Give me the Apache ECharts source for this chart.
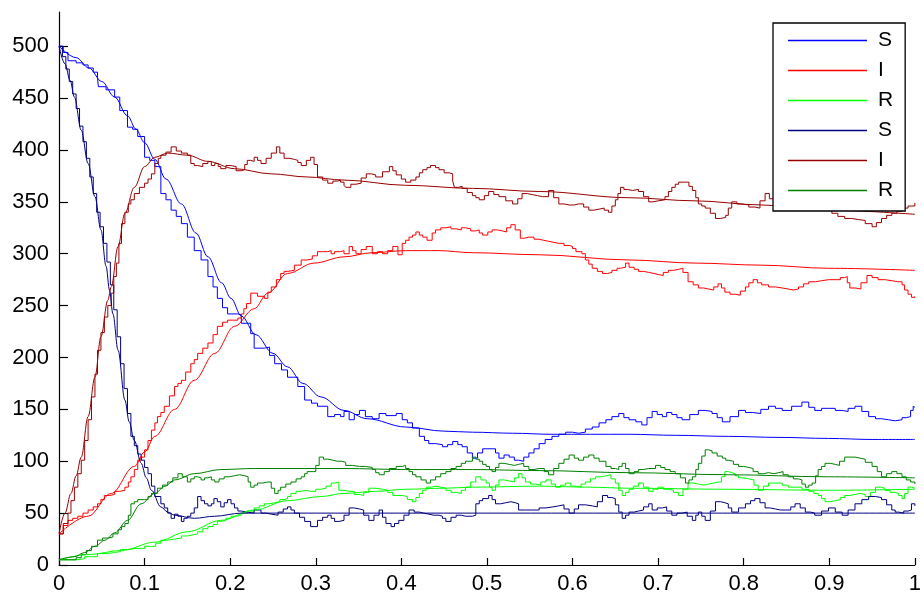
<!DOCTYPE html>
<html>
<head>
<meta charset="utf-8">
<script src="https://cdn.jsdelivr.net/npm/echarts@6/dist/echarts.min.js"></script>
<style>
html,body{margin:0;padding:0;background:#fff;}
#chart{width:924px;height:595px;}
</style>
</head>
<body>
<div id="chart"></div>
<script>
// Legend labels
const legendNames = ['S', 'I', 'R', 'S', 'I', 'R'];
const xTicks = [0, 0.1, 0.2, 0.3, 0.4, 0.5, 0.6, 0.7, 0.8, 0.9, 1];

// Model 1 (slow epidemic) - deterministic curves, [t, value]
const S1ode = [[0,500],[0.02,489],[0.035,479],[0.05,466],[0.065,451],[0.08,433],[0.09,420],[0.1,407],[0.112,391],[0.125,372],[0.143,348],[0.16,320],[0.174,297],[0.19,272],[0.201,257],[0.213,240],[0.23,222],[0.25,204],[0.267,191],[0.285,175],[0.306,162],[0.333,149],[0.36,141],[0.405,133],[0.45,129],[0.483,128],[0.53,127],[0.576,126],[0.666,126],[0.72,125],[0.782,124],[0.84,123],[0.899,122],[0.95,121],[1,121]];
const I1ode = [[0,30],[0.034,47],[0.061,69],[0.088,95],[0.1,109],[0.112,124],[0.135,150],[0.158,178],[0.182,204],[0.205,230],[0.228,247],[0.244,262],[0.267,281],[0.298,291],[0.333,297],[0.366,301],[0.405,303],[0.444,303],[0.483,301],[0.561,299],[0.666,294],[0.743,291],[0.821,289],[0.899,286],[1,284]];
const R1ode = [[0,5],[0.034,10],[0.073,14],[0.112,22],[0.15,32],[0.189,43],[0.228,53],[0.267,62],[0.306,66],[0.333,69],[0.37,71],[0.405,73],[0.45,74],[0.483,75],[0.561,76],[0.62,75],[0.666,74],[0.782,73],[0.899,72],[1,73]];

// Model 1 - stochastic paths
const S1sim = [[0,500],[0.005,494],[0.0105,486],[0.02,484],[0.028,482],[0.034,479],[0.04,475],[0.045,470],[0.046,461],[0.055,458],[0.065,451],[0.071,438],[0.08,422],[0.086,420],[0.092,413],[0.1,393],[0.106,390],[0.112,384],[0.119,358],[0.125,352],[0.131,342],[0.137,336],[0.143,329],[0.15,316],[0.158,303],[0.166,294],[0.174,278],[0.18,268],[0.185,257],[0.191,248],[0.197,242],[0.209,241],[0.213,233],[0.224,223],[0.228,209],[0.24,210],[0.246,202],[0.252,194],[0.26,188],[0.267,181],[0.279,172],[0.287,159],[0.295,156],[0.302,153],[0.314,143],[0.322,145],[0.329,143],[0.333,148],[0.339,140],[0.345,145],[0.351,149],[0.358,143],[0.366,141],[0.374,146],[0.382,144],[0.394,146],[0.401,140],[0.407,137],[0.413,132],[0.421,124],[0.427,120],[0.432,117],[0.44,116],[0.448,114],[0.454,116],[0.46,119],[0.466,116],[0.471,114],[0.477,108],[0.483,103],[0.489,108],[0.495,112],[0.506,112],[0.51,108],[0.514,103],[0.52,106],[0.526,104],[0.532,101],[0.537,100],[0.543,104],[0.549,108],[0.555,112],[0.561,117],[0.568,121],[0.576,124],[0.584,126],[0.592,128],[0.6,127],[0.607,128],[0.615,131],[0.623,133],[0.631,137],[0.639,140],[0.646,143],[0.654,146],[0.66,142],[0.666,140],[0.674,138],[0.681,135],[0.687,142],[0.693,148],[0.699,145],[0.705,143],[0.71,147],[0.716,145],[0.722,142],[0.728,140],[0.737,145],[0.747,149],[0.755,148],[0.763,146],[0.769,142],[0.775,138],[0.784,143],[0.794,149],[0.802,147],[0.81,146],[0.82,150],[0.829,153],[0.837,151],[0.845,149],[0.856,153],[0.868,157],[0.876,152],[0.883,149],[0.891,151],[0.899,151],[0.907,149],[0.915,148],[0.922,151],[0.93,153],[0.938,148],[0.946,143],[0.954,141],[0.961,140],[0.969,139],[0.977,140],[0.985,142],[0.99,143],[0.995,149],[0.998,153],[1,152]];
const I1sim = [[0,30],[0.005,38],[0.0105,43],[0.016,45],[0.022,47],[0.028,50],[0.034,53],[0.04,56],[0.045,59],[0.049,63],[0.053,67],[0.059,68],[0.065,71],[0.071,72],[0.077,75],[0.081,80],[0.084,85],[0.088,92],[0.092,101],[0.096,104],[0.1,111],[0.104,120],[0.108,130],[0.112,137],[0.115,143],[0.119,147],[0.123,153],[0.129,163],[0.135,172],[0.139,175],[0.143,178],[0.148,186],[0.154,194],[0.158,198],[0.162,204],[0.168,209],[0.174,214],[0.18,222],[0.185,230],[0.191,234],[0.197,236],[0.203,236],[0.209,238],[0.213,242],[0.216,247],[0.219,252],[0.224,262],[0.232,259],[0.24,257],[0.244,263],[0.248,268],[0.254,275],[0.259,281],[0.263,283],[0.267,284],[0.275,289],[0.283,294],[0.29,295],[0.296,298],[0.302,302],[0.308,302],[0.314,303],[0.318,300],[0.322,302],[0.329,303],[0.333,300],[0.339,307],[0.343,303],[0.347,300],[0.353,304],[0.359,307],[0.366,300],[0.372,302],[0.378,300],[0.384,303],[0.39,307],[0.396,299],[0.401,310],[0.405,313],[0.409,316],[0.413,318],[0.417,321],[0.421,318],[0.425,316],[0.43,313],[0.436,320],[0.44,323],[0.446,325],[0.452,326],[0.458,324],[0.464,323],[0.47,325],[0.475,324],[0.481,322],[0.487,323],[0.491,320],[0.495,318],[0.501,321],[0.506,323],[0.512,322],[0.518,321],[0.523,325],[0.528,328],[0.533,323],[0.539,315],[0.544,316],[0.549,316],[0.555,314],[0.561,313],[0.566,312],[0.572,311],[0.578,310],[0.584,310],[0.59,308],[0.596,307],[0.6,305],[0.604,302],[0.611,300],[0.615,294],[0.619,290],[0.623,286],[0.629,283],[0.635,281],[0.641,282],[0.646,284],[0.652,286],[0.656,287],[0.662,291],[0.666,287],[0.672,285],[0.677,283],[0.683,282],[0.689,281],[0.695,280],[0.7,279],[0.706,282],[0.712,284],[0.718,285],[0.724,286],[0.729,282],[0.735,273],[0.741,270],[0.747,267],[0.753,266],[0.759,265],[0.765,268],[0.77,271],[0.774,267],[0.778,263],[0.784,261],[0.79,260],[0.796,264],[0.802,268],[0.806,272],[0.811,275],[0.816,272],[0.821,270],[0.829,268],[0.837,267],[0.845,266],[0.852,265],[0.858,266],[0.864,268],[0.87,271],[0.876,273],[0.884,274],[0.891,275],[0.899,275],[0.907,275],[0.913,277],[0.918,278],[0.921,272],[0.924,267],[0.93,266],[0.937,272],[0.944,279],[0.95,277],[0.957,275],[0.965,274],[0.973,273],[0.98,273],[0.985,270],[0.988,265],[0.992,261],[0.996,258],[1,259]];
const R1sim = [[0,5],[0.02,6],[0.03,8],[0.045,11],[0.055,12],[0.065,13],[0.072,15],[0.08,16],[0.09,16],[0.1,18],[0.108,18],[0.113,21],[0.119,24],[0.127,25],[0.135,26],[0.143,28],[0.15,29],[0.156,30],[0.162,32],[0.168,35],[0.174,37],[0.18,39],[0.185,42],[0.189,43],[0.195,45],[0.201,47],[0.207,48],[0.213,50],[0.22,52],[0.228,55],[0.234,57],[0.24,59],[0.246,60],[0.252,61],[0.258,63],[0.263,64],[0.267,66],[0.271,69],[0.277,71],[0.283,72],[0.289,71],[0.294,71],[0.3,73],[0.306,74],[0.312,76],[0.318,79],[0.322,80],[0.327,72],[0.333,71],[0.339,71],[0.345,68],[0.351,67],[0.356,70],[0.362,74],[0.37,73],[0.378,72],[0.384,70],[0.39,67],[0.396,67],[0.401,66],[0.407,63],[0.413,61],[0.417,65],[0.421,69],[0.425,72],[0.429,75],[0.435,76],[0.44,75],[0.446,74],[0.452,72],[0.458,70],[0.464,69],[0.47,72],[0.475,75],[0.481,80],[0.487,85],[0.493,82],[0.499,79],[0.503,75],[0.506,72],[0.51,77],[0.514,82],[0.52,81],[0.526,80],[0.532,84],[0.537,88],[0.541,84],[0.545,80],[0.551,78],[0.557,77],[0.563,80],[0.569,82],[0.575,78],[0.58,75],[0.586,77],[0.592,79],[0.598,76],[0.604,75],[0.61,78],[0.615,80],[0.621,83],[0.627,85],[0.633,86],[0.639,87],[0.645,83],[0.65,79],[0.654,72],[0.658,67],[0.662,70],[0.666,73],[0.671,76],[0.677,79],[0.683,75],[0.689,71],[0.694,73],[0.7,75],[0.706,73],[0.712,72],[0.718,70],[0.724,67],[0.729,73],[0.735,79],[0.741,78],[0.747,77],[0.753,78],[0.759,79],[0.765,80],[0.77,80],[0.774,85],[0.778,90],[0.782,89],[0.786,88],[0.79,86],[0.794,84],[0.8,83],[0.806,82],[0.812,77],[0.817,72],[0.823,76],[0.829,79],[0.837,79],[0.845,77],[0.852,75],[0.86,75],[0.868,73],[0.876,71],[0.882,69],[0.887,67],[0.891,64],[0.895,61],[0.901,62],[0.907,63],[0.913,65],[0.918,67],[0.924,68],[0.93,69],[0.936,68],[0.942,66],[0.948,70],[0.954,75],[0.96,74],[0.965,72],[0.971,70],[0.977,69],[0.981,67],[0.985,64],[0.988,69],[0.992,75],[0.996,74],[1,74]];

// Model 2 (fast epidemic) - deterministic curves
const S2ode = [[0,500],[0.007,483],[0.013,467],[0.018,451],[0.026,419],[0.034,387],[0.042,355],[0.049,323],[0.055,288],[0.059,265],[0.063,242],[0.069,207],[0.077,159],[0.082,138],[0.088,120],[0.096,98],[0.102,84],[0.108,72],[0.119,56],[0.127,51],[0.135,48],[0.158,45],[0.182,47],[0.213,50],[0.3,50],[0.5,50],[0.7,50],[0.9,50],[1,50]];
const I2ode = [[0,30],[0.007,50],[0.014,69],[0.02,86],[0.026,104],[0.034,143],[0.042,181],[0.049,220],[0.057,255],[0.061,268],[0.069,307],[0.077,339],[0.088,364],[0.1,384],[0.112,393],[0.127,397],[0.15,395],[0.174,389],[0.205,382],[0.248,377],[0.29,374],[0.333,371],[0.405,366],[0.483,363],[0.561,360],[0.666,354],[0.743,351],[0.821,347],[0.9,342],[1,338]];
const R2ode = [[0,5],[0.018,8],[0.03,12],[0.042,18],[0.054,24],[0.065,31],[0.08,43],[0.096,59],[0.112,69],[0.124,76],[0.135,82],[0.158,88],[0.189,92],[0.228,93],[0.333,93],[0.405,92],[0.483,92],[0.561,91],[0.666,89],[0.782,87],[0.899,85],[1,84]];

// Model 2 - stochastic paths
const S2sim = [[0,500],[0.004,490],[0.008,478],[0.012,466],[0.016,454],[0.02,440],[0.024,423],[0.028,408],[0.032,392],[0.036,374],[0.04,358],[0.044,340],[0.048,326],[0.052,310],[0.056,292],[0.06,270],[0.064,246],[0.068,220],[0.072,194],[0.076,170],[0.08,146],[0.084,124],[0.088,115],[0.092,107],[0.096,101],[0.1,94],[0.104,88],[0.108,76],[0.112,66],[0.119,59],[0.123,55],[0.127,50],[0.131,45],[0.135,49],[0.139,47],[0.143,42],[0.146,45],[0.15,47],[0.154,50],[0.158,55],[0.162,66],[0.166,62],[0.17,59],[0.174,57],[0.178,59],[0.181,64],[0.185,61],[0.189,56],[0.193,60],[0.197,63],[0.201,59],[0.205,55],[0.209,52],[0.213,51],[0.22,50],[0.228,53],[0.236,50],[0.242,49],[0.248,48],[0.256,51],[0.262,54],[0.267,56],[0.271,53],[0.275,50],[0.281,46],[0.287,42],[0.294,37],[0.302,43],[0.308,46],[0.314,48],[0.318,45],[0.322,42],[0.327,43],[0.333,48],[0.339,55],[0.345,54],[0.351,53],[0.356,48],[0.362,43],[0.368,48],[0.374,53],[0.378,46],[0.382,40],[0.388,37],[0.392,40],[0.397,43],[0.403,48],[0.409,53],[0.415,51],[0.421,50],[0.426,49],[0.432,48],[0.438,48],[0.444,47],[0.448,45],[0.452,42],[0.458,46],[0.464,48],[0.47,47],[0.475,47],[0.483,48],[0.487,59],[0.491,62],[0.495,64],[0.502,67],[0.506,63],[0.51,59],[0.516,60],[0.522,61],[0.528,60],[0.533,59],[0.537,53],[0.545,53],[0.553,53],[0.561,55],[0.569,56],[0.577,57],[0.584,58],[0.59,54],[0.596,50],[0.602,54],[0.607,58],[0.615,57],[0.623,56],[0.629,61],[0.635,67],[0.641,65],[0.646,64],[0.65,58],[0.654,51],[0.658,45],[0.662,48],[0.666,51],[0.672,52],[0.677,53],[0.683,56],[0.689,59],[0.693,53],[0.699,55],[0.705,56],[0.71,52],[0.716,48],[0.722,50],[0.728,51],[0.734,47],[0.74,43],[0.744,48],[0.747,51],[0.751,47],[0.755,43],[0.761,52],[0.767,61],[0.773,60],[0.778,59],[0.782,55],[0.786,51],[0.794,55],[0.802,59],[0.808,62],[0.813,64],[0.819,60],[0.825,55],[0.831,54],[0.837,53],[0.843,53],[0.849,53],[0.855,56],[0.86,59],[0.866,55],[0.872,51],[0.878,50],[0.883,48],[0.891,52],[0.899,55],[0.907,51],[0.915,48],[0.922,53],[0.93,59],[0.938,63],[0.946,66],[0.954,65],[0.961,63],[0.967,58],[0.973,53],[0.977,51],[0.981,50],[0.987,52],[0.992,53],[0.996,59],[1,57]];
const I2sim = [[0,30],[0.005,40],[0.0105,50],[0.014,62],[0.018,75],[0.022,88],[0.026,101],[0.03,120],[0.034,140],[0.038,162],[0.042,184],[0.045,207],[0.049,224],[0.053,239],[0.057,250],[0.061,262],[0.064,278],[0.067,291],[0.07,310],[0.073,329],[0.077,340],[0.081,348],[0.084,352],[0.088,358],[0.094,364],[0.1,368],[0.104,372],[0.108,377],[0.112,387],[0.116,392],[0.119,395],[0.125,398],[0.131,403],[0.137,399],[0.143,397],[0.15,395],[0.154,387],[0.158,385],[0.162,384],[0.168,387],[0.174,389],[0.178,385],[0.182,387],[0.186,384],[0.189,382],[0.195,385],[0.201,384],[0.207,380],[0.213,381],[0.217,386],[0.22,390],[0.224,389],[0.228,393],[0.232,390],[0.236,387],[0.242,392],[0.248,397],[0.254,403],[0.258,397],[0.263,392],[0.269,391],[0.275,390],[0.279,388],[0.283,385],[0.289,390],[0.294,393],[0.298,386],[0.302,374],[0.308,371],[0.314,368],[0.32,370],[0.325,371],[0.329,369],[0.333,366],[0.335,364],[0.341,367],[0.347,368],[0.353,373],[0.359,377],[0.365,376],[0.37,374],[0.378,379],[0.386,384],[0.39,380],[0.394,376],[0.4,372],[0.405,369],[0.411,371],[0.417,374],[0.421,378],[0.425,381],[0.43,383],[0.434,385],[0.44,383],[0.444,381],[0.45,378],[0.456,377],[0.46,370],[0.462,364],[0.467,365],[0.471,363],[0.477,359],[0.483,356],[0.487,354],[0.491,352],[0.497,356],[0.502,360],[0.508,357],[0.514,355],[0.522,351],[0.53,348],[0.536,353],[0.541,358],[0.547,357],[0.553,356],[0.559,355],[0.565,355],[0.572,361],[0.578,354],[0.584,348],[0.59,347],[0.596,347],[0.602,348],[0.607,348],[0.613,345],[0.619,342],[0.625,343],[0.631,344],[0.637,342],[0.642,340],[0.646,346],[0.65,352],[0.653,358],[0.656,364],[0.66,362],[0.664,361],[0.67,362],[0.677,360],[0.683,355],[0.689,350],[0.694,351],[0.7,352],[0.708,355],[0.712,360],[0.716,364],[0.72,367],[0.724,369],[0.732,369],[0.736,365],[0.74,361],[0.744,354],[0.747,348],[0.751,346],[0.755,344],[0.761,339],[0.767,334],[0.773,335],[0.779,337],[0.782,344],[0.786,350],[0.792,348],[0.798,347],[0.806,345],[0.813,344],[0.819,351],[0.825,358],[0.83,353],[0.84,350],[0.85,348],[0.86,346],[0.87,348],[0.88,345],[0.89,343],[0.903,339],[0.91,336],[0.918,334],[0.926,333],[0.934,332],[0.942,329],[0.95,326],[0.955,330],[0.961,334],[0.967,337],[0.973,339],[0.979,341],[0.985,344],[0.992,346],[1,349]];
const R2sim = [[0,5],[0.012,5],[0.02,7],[0.026,10],[0.032,14],[0.038,18],[0.045,24],[0.051,26],[0.057,27],[0.063,30],[0.069,34],[0.073,37],[0.077,40],[0.081,48],[0.084,59],[0.088,61],[0.092,63],[0.1,63],[0.104,66],[0.108,69],[0.115,74],[0.121,77],[0.127,80],[0.133,84],[0.139,88],[0.144,85],[0.15,80],[0.154,83],[0.158,85],[0.162,84],[0.166,82],[0.17,84],[0.174,85],[0.178,82],[0.182,80],[0.187,83],[0.193,85],[0.199,86],[0.205,87],[0.211,86],[0.217,85],[0.221,80],[0.224,75],[0.228,77],[0.232,79],[0.238,80],[0.244,80],[0.248,74],[0.252,69],[0.256,72],[0.259,75],[0.265,78],[0.271,80],[0.277,83],[0.283,85],[0.287,88],[0.29,90],[0.297,90],[0.3,96],[0.304,104],[0.309,102],[0.314,101],[0.32,100],[0.325,100],[0.33,99],[0.335,96],[0.343,95],[0.351,95],[0.358,94],[0.366,92],[0.37,89],[0.374,87],[0.38,90],[0.386,93],[0.394,95],[0.401,96],[0.405,93],[0.409,90],[0.413,87],[0.417,85],[0.423,82],[0.429,79],[0.434,82],[0.44,85],[0.446,88],[0.452,90],[0.458,93],[0.464,95],[0.47,98],[0.475,100],[0.483,104],[0.487,102],[0.491,100],[0.495,97],[0.499,95],[0.503,92],[0.506,90],[0.51,94],[0.514,98],[0.52,97],[0.526,96],[0.532,97],[0.537,98],[0.543,95],[0.549,92],[0.555,93],[0.561,93],[0.567,90],[0.572,87],[0.578,93],[0.584,98],[0.59,102],[0.596,106],[0.602,103],[0.607,101],[0.613,104],[0.619,106],[0.625,103],[0.631,100],[0.639,95],[0.645,93],[0.65,92],[0.654,95],[0.658,98],[0.662,93],[0.666,88],[0.672,90],[0.677,92],[0.683,93],[0.689,93],[0.697,96],[0.703,94],[0.708,92],[0.714,90],[0.72,88],[0.726,84],[0.732,79],[0.736,82],[0.74,85],[0.744,92],[0.747,98],[0.751,105],[0.755,111],[0.759,110],[0.763,108],[0.769,105],[0.775,103],[0.779,101],[0.782,100],[0.788,97],[0.794,95],[0.8,94],[0.806,93],[0.811,90],[0.817,88],[0.823,89],[0.829,88],[0.835,89],[0.841,90],[0.846,87],[0.852,85],[0.858,83],[0.864,82],[0.868,78],[0.872,75],[0.876,77],[0.88,79],[0.884,86],[0.887,92],[0.891,95],[0.895,98],[0.901,97],[0.907,96],[0.912,100],[0.918,104],[0.924,104],[0.93,103],[0.936,102],[0.942,99],[0.95,95],[0.956,90],[0.961,85],[0.967,88],[0.973,90],[0.979,88],[0.985,85],[0.99,82],[0.995,80],[1,78]];

const colors = { S1:'#0000ff', I1:'#ff0000', R1:'#00ff00', S2:'#000080', I2:'#990000', R2:'#008000' };

const FONT = '"Liberation Sans", Arial, sans-serif';

function line(name, data, color, smooth) {
  return {
    name: name, type: 'line', data: data, symbol: 'none', showSymbol: false,
    smooth: smooth ? 0.35 : false, smoothMonotone: smooth ? 'x' : undefined,
    step: smooth ? false : 'end',
    lineStyle: { color: color, width: 1 }, itemStyle: { color: color },
    emphasis: { disabled: true }, z: 2
  };
}

const series = [
  line('S1s', S1sim, colors.S1, false),
  line('I1s', I1sim, colors.I1, false),
  line('R1s', R1sim, colors.R1, false),
  line('S2s', S2sim, colors.S2, false),
  line('I2s', I2sim, colors.I2, false),
  line('R2s', R2sim, colors.R2, false),
  line('S1', S1ode, colors.S1, true),
  line('I1', I1ode, colors.I1, true),
  line('R1', R1ode, colors.R1, true),
  line('S2', S2ode, colors.S2, true),
  line('I2', I2ode, colors.I2, true),
  line('R2', R2ode, colors.R2, true)
];

const legendKeys = ['S1','I1','R1','S2','I2','R2'];

const chart = echarts.init(document.getElementById('chart'), null, { renderer: 'canvas' });
chart.setOption({
  animation: false,
  backgroundColor: '#ffffff',
  grid: { left: 59, right: 7, top: 12, bottom: 30, containLabel: false },
  xAxis: {
    type: 'value', min: xTicks[0], max: xTicks[xTicks.length - 1], interval: 0.1,
    axisLine: { show: true, lineStyle: { color: '#000', width: 1.2 } },
    axisTick: { show: true, inside: true, length: 7, lineStyle: { color: '#000', width: 1.2 } },
    axisLabel: { color: '#000', fontSize: 22, fontFamily: FONT, margin: 8,
      formatter: v => String(Math.round(v * 10) / 10) },
    splitLine: { show: false }
  },
  yAxis: {
    type: 'value', min: 0, max: 533, interval: 50,
    axisLine: { show: true, lineStyle: { color: '#000', width: 1.2 } },
    axisTick: { show: true, inside: true, length: 9, lineStyle: { color: '#000', width: 1.2 } },
    axisLabel: { color: '#000', fontSize: 22, fontFamily: FONT, margin: 10, showMaxLabel: false },
    splitLine: { show: false }
  },
  legend: {
    orient: 'vertical', left: 773, top: 23,
    data: legendKeys.map(k => ({ name: k, icon: 'rect', itemStyle: { color: colors[k] } })),
    formatter: name => legendNames[legendKeys.indexOf(name)],
    itemWidth: 79, itemHeight: 1.5, itemGap: 9,
    padding: [7, 12, 10, 15],
    borderColor: '#000', borderWidth: 1.3, backgroundColor: '#ffffff',
    selectedMode: false,
    textStyle: { color: '#000', fontSize: 21, fontFamily: FONT, lineHeight: 21, padding: [0, 0, 0, 6] },
    z: 10
  },
  series: series
});
</script>
</body>
</html>
